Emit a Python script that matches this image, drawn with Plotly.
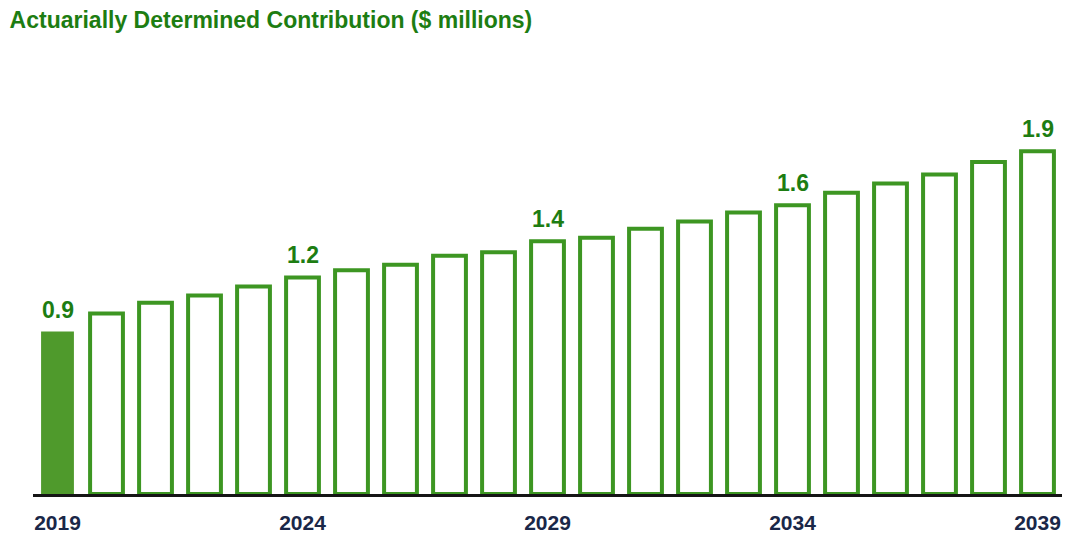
import plotly.graph_objects as go

# Actuarially determined contribution by plan year ($ millions)
years = [str(y) for y in range(2019, 2040)]
contribution = [0.9, 1.00, 1.06, 1.10, 1.15, 1.2, 1.24, 1.27, 1.32, 1.34, 1.4,
                1.42, 1.47, 1.51, 1.56, 1.6, 1.67, 1.72, 1.77, 1.84, 1.9]
labelled_years = ["2019", "2024", "2029", "2034", "2039"]
tick_years = ["2019", "2024", "2029", "2034", "2039"]

GREEN = "#3d9622"
FILL_GREEN = "#4f9a2c"
LABEL_GREEN = "#1d7d12"
NAVY = "#1a2748"
FONT = "Liberation Sans, Arial, sans-serif"

fills = [FILL_GREEN if y == "2019" else "white" for y in years]
line_widths = [0 if y == "2019" else 4 for y in years]

fig = go.Figure()
fig.add_trace(go.Bar(
    x=years,
    y=contribution,
    marker=dict(color=fills, line=dict(color=GREEN, width=line_widths)),
    width=0.67,
    hoverinfo="x+y",
))

# value labels above selected bars (category index positions)
for i, (y, v) in enumerate(zip(years, contribution)):
    if y in labelled_years:
        fig.add_annotation(
            x=i, y=v, xref="x", yref="y",
            text=f"<b>{v:.1f}</b>", showarrow=False,
            yanchor="bottom", yshift=7,
            font=dict(family=FONT, size=23, color=LABEL_GREEN),
        )

fig.update_layout(
    width=1069, height=534,
    margin=dict(l=33, r=7, t=97, b=40),
    paper_bgcolor="white", plot_bgcolor="white",
    showlegend=False,
    title=dict(
        text="<b>Actuarially Determined Contribution ($ millions)</b>",
        x=0.009, xanchor="left", y=0.962, yanchor="middle",
        font=dict(family=FONT, size=23, color=LABEL_GREEN),
    ),
)
fig.update_xaxes(
    type="category", range=[-0.5, 20.5], automargin=False,
    tickmode="array", tickvals=tick_years, ticktext=[f"<b>{t}</b>" for t in tick_years],
    tickfont=dict(family=FONT, size=21, color=NAVY),
    showline=True, linecolor="#151515", linewidth=3,
    ticks="outside", ticklen=8, tickcolor="rgba(0,0,0,0)",
    showgrid=False, zeroline=False,
)
fig.update_yaxes(
    range=[0, 2.2], visible=False, showgrid=False, zeroline=False,
)

fig.write_html("out.html")
